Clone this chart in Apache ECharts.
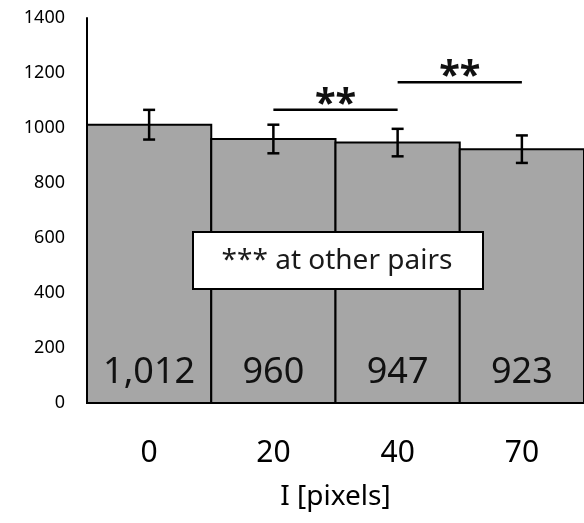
<!DOCTYPE html>
<html>
<head>
<meta charset="utf-8">
<script src="https://cdn.jsdelivr.net/npm/echarts@6/dist/echarts.min.js"></script>
<style>html,body{margin:0;padding:0;background:#fff}#c{width:584px;height:523px}</style>
</head>
<body>
<div id="c"></div>
<script>
var categories = ['0', '20', '40', '70'];
var values = [1012, 960, 947, 923];
var errors = [54, 52, 50, 50];
var brackets = [
  { from: '20', to: '40', y: 1066, label: '**' },
  { from: '40', to: '70', y: 1166, label: '**' }
];
var noteText = '*** at other pairs';
var FONT = 'Noto Sans';

var chart = echarts.init(document.getElementById('c'));
chart.setOption({
  animation: false,
  backgroundColor: '#fff',
  grid: { left: 87, top: 18, width: 500, bottom: 120, containLabel: false },
  xAxis: {
    type: 'category',
    data: categories,
    axisLine: { show: true, lineStyle: { color: '#000', width: 2 } },
    axisTick: { show: false },
    axisLabel: { fontSize: 30, color: '#000', fontFamily: FONT, margin: 35 },
    name: 'I [pixels]',
    nameLocation: 'middle',
    nameGap: 80,
    nameTextStyle: { fontSize: 28, color: '#000', fontFamily: FONT }
  },
  yAxis: {
    type: 'value',
    min: 0, max: 1400, interval: 200,
    axisLine: { show: true, lineStyle: { color: '#000', width: 2 } },
    axisTick: { show: false },
    splitLine: { show: false },
    axisLabel: { fontSize: 18, color: '#000', fontFamily: FONT, margin: 22, formatter: function (v) { return String(v); } }
  },
  series: [
    {
      type: 'custom',
      data: values.map(function (v, i) { return [i, v]; }),
      renderItem: function (params, api) {
        var i = api.value(0), v = api.value(1);
        var p0 = api.coord([i, 0]);
        var p1 = api.coord([i, v]);
        var w = api.size([1, 0])[0];
        return {
          type: 'group',
          children: [
            { type: 'rect', shape: { x: p0[0] - w / 2, y: p1[1], width: w, height: p0[1] - p1[1] }, style: { fill: '#a6a6a6', stroke: '#000', lineWidth: 2 } },
            { type: 'text', style: { text: v.toLocaleString('en-US'), x: p0[0], y: p0[1] - 12, align: 'center', verticalAlign: 'bottom', fontSize: 36, fill: '#111', fontFamily: FONT } }
          ]
        };
      },
      z: 2
    },
    {
      type: 'custom',
      data: values.map(function (v, i) { return [i, v, errors[i]]; }),
      renderItem: function (params, api) {
        var i = api.value(0), v = api.value(1), e = api.value(2);
        var top = api.coord([i, v + e]);
        var bot = api.coord([i, v - e]);
        var hw = 6;
        var st = { stroke: '#000', lineWidth: 2.5 };
        return {
          type: 'group',
          children: [
            { type: 'line', shape: { x1: top[0], y1: top[1], x2: bot[0], y2: bot[1] }, style: st },
            { type: 'line', shape: { x1: top[0] - hw, y1: top[1], x2: top[0] + hw, y2: top[1] }, style: st },
            { type: 'line', shape: { x1: bot[0] - hw, y1: bot[1], x2: bot[0] + hw, y2: bot[1] }, style: st }
          ]
        };
      },
      z: 5
    },
    {
      type: 'custom',
      data: brackets.map(function (b) { return [categories.indexOf(b.from), categories.indexOf(b.to), b.y]; }),
      renderItem: function (params, api) {
        var a = api.coord([api.value(0), api.value(2)]);
        var b = api.coord([api.value(1), api.value(2)]);
        var lbl = brackets[params.dataIndex].label;
        return {
          type: 'group',
          children: [
            { type: 'line', shape: { x1: a[0], y1: a[1], x2: b[0], y2: b[1] }, style: { stroke: '#000', lineWidth: 2.5 } },
            { type: 'text', style: { text: lbl, x: (a[0] + b[0]) / 2, y: a[1] + 14, align: 'center', verticalAlign: 'bottom', fontSize: 38, fontWeight: 'bold', fill: '#111', fontFamily: FONT } }
          ]
        };
      },
      z: 5
    }
  ]
});

chart.setOption({
  graphic: [
    { type: 'rect', z: 100, shape: { x: 193, y: 232, width: 290, height: 57 }, style: { fill: '#fff', stroke: '#000', lineWidth: 2 } },
    { type: 'text', z: 101, x: 337, y: 261, style: { text: noteText, align: 'center', verticalAlign: 'middle', fontSize: 28, fill: '#1a1a1a', fontFamily: FONT } }
  ]
});
</script>
</body>
</html>
